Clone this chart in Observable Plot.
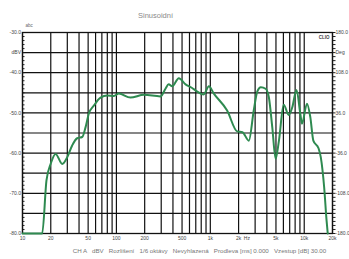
<!DOCTYPE html>
<html>
<head>
<meta charset="utf-8">
<script src="https://cdn.jsdelivr.net/npm/d3@7"></script>
<script src="https://cdn.jsdelivr.net/npm/@observablehq/plot@0.6"></script>
<style>
  html, body { margin: 0; padding: 0; background: #fff; }
  svg { display: block; }
</style>
</head>
<body>
<div id="chart"></div>
<script>
const freq = [10, 16.2, 18, 20, 22.5, 26.5, 30, 33.8, 38.2, 43.2, 46.9, 50.8, 57.5, 67.7, 80, 94, 106, 141, 196, 295, 333, 360, 392, 462, 545, 640, 727, 850, 966, 1090, 1510, 1930, 2200, 2570, 2900, 3160, 3450, 3880, 4200, 4570, 4960, 5380, 6040, 6840, 7460, 8280, 9080, 9460, 10700, 11600, 12500, 14200, 15000, 16300, 17300, 17800];
const level = [-80, -80, -66.8, -62.6, -60.2, -62.7, -61, -58.1, -56.3, -56.0, -53.6, -50.2, -48.2, -46.2, -45.7, -45.8, -45.2, -46.2, -45.5, -45.9, -44.0, -42.9, -43.4, -41.4, -42.9, -43.8, -44.7, -45.4, -43.4, -45.2, -49.4, -54.6, -54.8, -56.9, -49.4, -44.7, -43.6, -44.0, -46.1, -53.6, -61.4, -56.9, -48.0, -50.5, -48.6, -44.3, -50.2, -52.7, -47.7, -51.0, -56.9, -58.8, -61.0, -68.5, -76.8, -80];

const gridX = [10,20,30,40,50,60,70,80,90,100,200,300,400,500,600,700,800,900,1000,2000,3000,4000,5000,6000,7000,8000,9000,10000,20000];
const gridY = [-80,-75,-70,-65,-60,-55,-50,-45,-40,-35,-30];
const xTicks = [10, 20, 50, 100, 200, 500, 1000, 2000, 2450, 5000, 10000, 20000];
const xTickLabels = ["10", "20", "50", "100", "200", "500", "1k", "2k", "Hz", "5k", "10k", "20k"];
const leftTicks = [-30, -35, -40, -50, -60, -70, -80];
const leftLabels = ["-30.0", "dBV", "-40.0", "-50.0", "-60.0", "-70.0", "-80.0"];
const rightLabels = ["180.0", "Deg", "108.0", "36.0", "-36.0", "-108.0", "-180.0"];
const minorTicks = d3.range(-80, -29, 1);

const title = "Sinusoidní";
const caption = "CH A   dBV   Rozlišení   1/6 oktávy   Nevyhlazená   Prodleva [ms] 0.000   Vzestup [dB] 30.00";

const data = freq.map((f, i) => ({f, v: level[i]}));
const xLab = xTicks.map((f, i) => ({f, t: xTickLabels[i]}));
const font = "Liberation Sans, Arial, sans-serif";

const chart = Plot.plot({
  width: 349,
  height: 259,
  marginTop: 32,
  marginLeft: 22,
  marginRight: 17,
  marginBottom: 26,
  style: {fontFamily: font, background: "#fff"},
  x: {type: "log", domain: [10, 20000], axis: null},
  y: {domain: [-80, -30]},
  marks: [
    Plot.ruleX(gridX, {stroke: "#111", strokeWidth: 1.2}),
    Plot.ruleY(gridY, {stroke: "#111", strokeWidth: 1.2}),
    Plot.axisY({anchor: "left", ticks: minorTicks, tickSize: -2.5, tickFormat: () => "", stroke: "#222", label: null}),
    Plot.axisY({anchor: "right", ticks: minorTicks, tickSize: 2.5, tickFormat: () => "", stroke: "#222", label: null}),
    Plot.axisY({anchor: "left", ticks: leftTicks, tickSize: 0, tickPadding: 1.5,
      tickFormat: d => leftLabels[leftTicks.indexOf(d)], fontSize: 5, fill: "#444", label: null}),
    Plot.axisY({anchor: "right", ticks: leftTicks, tickSize: 0, tickPadding: 3,
      tickFormat: d => rightLabels[leftTicks.indexOf(d)], fontSize: 5, fill: "#444", label: null}),
    Plot.text(xLab, {x: "f", frameAnchor: "bottom", dy: 6, text: "t", fontSize: 5, fill: "#444"}),
    Plot.frame({stroke: "#111", strokeWidth: 1.3}),
    Plot.line(data, {x: "f", y: "v", stroke: "#2e8a50", strokeWidth: 2, curve: "monotone-x"}),
    Plot.text([title], {frameAnchor: "top", dy: -20, dx: -22, text: d => d, fontSize: 7.5, fill: "#8a8a8a"}),
    Plot.text(["abc"], {frameAnchor: "top-left", dy: -9, dx: 3, text: d => d, fontSize: 4.5, fill: "#666"}),
    Plot.text(["CLIO"], {frameAnchor: "top-right", dy: 3.5, dx: -3, textAnchor: "end", text: d => d, fontSize: 4.5, fontWeight: "bold", fill: "#444", stroke: "#fff", strokeWidth: 3}),
    Plot.text([caption], {frameAnchor: "bottom", dy: 19, dx: 22, text: d => d, fontSize: 6.2, fill: "#777"})
  ]
});
document.getElementById("chart").appendChild(chart);
</script>
</body>
</html>
